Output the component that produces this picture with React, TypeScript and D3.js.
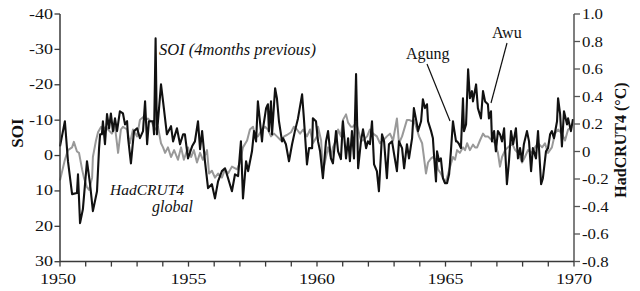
import React from "react";
import * as d3 from "d3";

const soiPoints: [number, number][] = [
  [1950.00,-2.6],[1950.19,-9.7],[1950.31,1.6],[1950.47,10.9],[1950.66,10.6],[1950.70,5.3],[1950.78,19.1],[1950.89,15.2],
  [1951.05,1.6],[1951.17,8.1],[1951.28,15.7],[1951.44,10.1],[1951.52,-2.1],[1951.56,-6.0],[1951.63,-6.0],[1951.67,-9.7],[1951.75,-3.2],[1951.83,-11.7],[1951.91,-7.7],[1951.98,-11.9],
  [1952.06,-6.9],[1952.14,-10.5],[1952.22,-6.9],[1952.33,-12.5],[1952.45,-11.9],[1952.53,-8.8],[1952.61,-9.7],[1952.65,-4.9],[1952.76,2.2],[1952.88,-6.9],
  [1953.00,-7.7],[1953.11,-4.9],[1953.23,-6.9],[1953.31,-15.3],[1953.39,-3.2],[1953.46,-9.7],[1953.62,-9.7],[1953.66,-6.0],[1953.72,-33.1],[1953.77,-6.0],[1953.93,-20.1],
  [1954.01,-15.3],[1954.16,-6.0],[1954.32,-8.3],[1954.40,-4.0],[1954.55,-7.7],[1954.67,-3.2],[1954.79,-6.0],[1954.86,-6.0],[1954.98,0.8],
  [1955.14,-2.6],[1955.25,-4.0],[1955.37,-9.7],[1955.45,-1.8],[1955.53,-6.9],[1955.64,1.6],[1955.76,9.2],[1955.91,8.1],
  [1956.03,12.1],[1956.15,7.3],[1956.30,4.4],[1956.42,3.6],[1956.54,6.4],[1956.69,10.1],[1956.81,5.3],[1956.93,5.8],
  [1957.04,-4.0],[1957.12,12.1],[1957.24,1.6],[1957.32,4.4],[1957.47,-1.2],[1957.55,-6.9],[1957.63,-4.0],[1957.70,-15.3],[1957.86,-4.0],[1957.90,-7.7],
  [1958.02,-13.4],[1958.09,-14.5],[1958.13,-6.9],[1958.21,-15.3],[1958.25,-6.0],[1958.37,-19.0],[1958.44,-16.2],[1958.52,-9.7],[1958.64,-4.0],[1958.68,-4.9],[1958.79,-3.2],[1958.91,1.6],
  [1959.03,-3.2],[1959.14,-6.9],[1959.26,-10.5],[1959.42,-17.3],[1959.49,-10.5],[1959.61,2.5],[1959.69,-2.1],[1959.81,-2.1],[1959.84,-10.5],[1959.96,-9.7],
  [1960.04,-4.0],[1960.12,-1.2],[1960.23,6.4],[1960.35,-4.0],[1960.43,-6.9],[1960.54,0.8],[1960.62,2.2],[1960.74,-6.9],[1960.82,-1.2],[1960.93,1.0],
  [1961.01,-9.7],[1961.13,0.8],[1961.21,-4.9],[1961.28,1.6],[1961.36,-6.9],[1961.44,0.8],[1961.52,-23.0],[1961.60,3.6],[1961.71,-4.0],[1961.79,-7.4],[1961.91,-2.1],[1961.98,-4.0],
  [1962.06,-3.2],[1962.14,-9.7],[1962.22,2.5],[1962.33,4.4],[1962.41,10.1],[1962.53,-6.0],[1962.61,-4.0],[1962.72,6.4],[1962.80,-3.2],[1962.92,-4.0],
  [1963.00,-0.4],[1963.11,4.4],[1963.19,-4.0],[1963.31,-2.1],[1963.39,3.6],[1963.50,-3.2],[1963.58,0.8],[1963.70,-4.9],[1963.77,-13.4],[1963.89,-8.8],[1963.93,-6.9],
  [1964.05,-9.7],[1964.12,-15.9],[1964.20,-13.4],[1964.28,-14.5],[1964.32,-9.7],[1964.44,-6.9],[1964.51,-4.9],[1964.55,-0.4],[1964.63,7.3],[1964.67,-1.2],[1964.75,1.6],[1964.82,0.8],[1964.90,6.4],[1964.98,7.8],
  [1965.06,7.8],[1965.14,5.3],[1965.21,-1.2],[1965.29,-9.7],[1965.33,-7.7],[1965.41,-4.0],[1965.45,-4.0],[1965.53,-3.2],[1965.60,-2.1],[1965.68,-16.2],[1965.72,-6.9],[1965.80,-8.8],[1965.88,-24.4],[1965.95,-16.2],
  [1966.03,-18.2],[1966.07,-15.3],[1966.19,-20.1],[1966.26,-13.4],[1966.38,-10.5],[1966.46,-18.2],[1966.54,-15.3],[1966.65,-14.5],[1966.69,-10.5],[1966.77,-12.5],[1966.81,-4.0],[1966.89,-6.9],[1966.96,-1.2],
  [1967.04,-6.9],[1967.12,-6.0],[1967.20,-4.0],[1967.28,-7.7],[1967.39,8.1],[1967.47,1.6],[1967.55,-6.9],[1967.63,-3.2],[1967.74,-7.7],[1967.82,0.8],[1967.90,-2.1],[1967.98,1.6],
  [1968.05,-3.2],[1968.17,-6.9],[1968.25,-4.0],[1968.33,4.4],[1968.40,-2.1],[1968.52,0.8],[1968.60,-6.9],[1968.72,8.1],[1968.79,6.4],[1968.91,-1.2],[1968.99,-2.1],
  [1969.07,-6.0],[1969.14,-6.9],[1969.22,-4.9],[1969.34,-9.7],[1969.38,-16.2],[1969.46,-11.7],[1969.53,-2.6],[1969.61,-12.5],[1969.73,-8.8],[1969.77,-10.5],[1969.88,-6.9],[1969.96,-10.3],
];

const hadPoints: [number, number][] = [
  [1950.00,-0.21],[1950.19,-0.06],[1950.31,0.01],[1950.47,0.03],[1950.54,0.07],[1950.66,0.00],[1950.74,-0.01],[1950.86,-0.13],[1950.93,-0.19],
  [1951.05,-0.26],[1951.13,-0.28],[1951.25,-0.19],[1951.28,-0.04],[1951.40,0.08],[1951.48,0.14],[1951.60,0.18],[1951.67,0.16],[1951.79,0.18],[1951.87,0.16],
  [1952.02,0.13],[1952.14,0.18],[1952.26,-0.01],[1952.37,0.16],[1952.45,0.18],[1952.61,0.16],[1952.72,0.06],[1952.84,0.16],
  [1953.00,0.11],[1953.11,0.23],[1953.23,0.25],[1953.35,0.23],[1953.42,0.24],[1953.58,0.21],[1953.70,0.16],[1953.81,0.18],[1953.93,0.06],
  [1954.01,0.03],[1954.09,-0.01],[1954.20,0.03],[1954.32,-0.04],[1954.44,0.01],[1954.59,-0.06],[1954.71,0.03],[1954.82,-0.06],[1954.98,0.03],
  [1955.10,-0.04],[1955.21,0.01],[1955.33,-0.08],[1955.45,-0.01],[1955.56,-0.06],[1955.72,0.01],[1955.80,-0.16],[1955.91,-0.14],
  [1956.03,-0.19],[1956.15,-0.16],[1956.30,-0.19],[1956.42,-0.13],[1956.54,-0.16],[1956.69,-0.11],[1956.89,-0.13],
  [1957.00,-0.08],[1957.12,0.03],[1957.28,0.08],[1957.39,0.16],[1957.51,0.18],[1957.59,0.11],[1957.70,0.11],[1957.86,0.16],[1957.98,0.18],
  [1958.09,0.16],[1958.21,0.11],[1958.33,0.13],[1958.44,0.11],[1958.60,0.08],[1958.72,0.11],[1958.83,0.12],[1958.99,0.14],
  [1959.10,0.18],[1959.22,0.16],[1959.34,0.13],[1959.46,0.16],[1959.61,0.11],[1959.73,0.16],[1959.84,0.06],
  [1960.00,0.11],[1960.04,0.18],[1960.16,0.08],[1960.23,-0.15],[1960.35,-0.04],[1960.43,0.03],[1960.54,-0.04],[1960.62,0.03],[1960.74,0.08],[1960.82,0.16],[1960.93,0.11],
  [1961.01,0.23],[1961.13,0.27],[1961.21,0.21],[1961.32,0.18],[1961.40,0.18],[1961.52,0.21],[1961.60,0.16],[1961.71,0.08],[1961.79,0.08],[1961.95,0.11],
  [1962.06,0.16],[1962.18,0.13],[1962.33,0.11],[1962.45,0.06],[1962.57,0.08],[1962.72,0.11],[1962.84,0.13],[1962.96,0.08],
  [1963.11,0.24],[1963.19,0.06],[1963.31,0.11],[1963.50,0.23],[1963.58,0.23],[1963.70,0.22],[1963.77,0.23],[1963.89,0.16],[1963.97,0.11],
  [1964.09,0.06],[1964.16,-0.04],[1964.24,-0.16],[1964.32,-0.08],[1964.44,-0.05],[1964.51,-0.04],[1964.63,-0.06],[1964.71,-0.13],[1964.82,-0.16],[1964.90,-0.19],[1964.98,-0.23],
  [1965.06,-0.19],[1965.18,-0.11],[1965.29,-0.04],[1965.37,-0.06],[1965.45,0.01],[1965.56,-0.01],[1965.68,0.03],[1965.76,0.01],[1965.84,0.06],[1965.95,0.01],
  [1966.07,0.05],[1966.15,0.03],[1966.23,0.03],[1966.34,0.08],[1966.46,0.13],[1966.54,0.11],[1966.65,0.11],[1966.81,0.08],[1966.93,0.06],
  [1967.04,-0.01],[1967.12,-0.11],[1967.20,-0.04],[1967.32,0.01],[1967.43,0.03],[1967.59,0.06],[1967.71,0.01],[1967.82,-0.01],[1967.98,-0.08],
  [1968.09,-0.04],[1968.21,0.01],[1968.37,-0.01],[1968.48,0.03],[1968.60,0.06],[1968.76,0.03],[1968.87,0.06],[1968.99,-0.01],
  [1969.14,0.03],[1969.26,0.13],[1969.38,0.16],[1969.53,0.13],[1969.65,0.08],[1969.77,0.16],[1969.92,0.18],
];

const yearTicks = d3.range(1950, 1971, 1);
const yearLabels = [1950, 1955, 1960, 1965, 1970];
const soiTicks = [-40, -30, -20, -10, 0, 10, 20, 30];
const hadTicks = [1.0, 0.8, 0.6, 0.4, 0.2, 0, -0.2, -0.4, -0.6, -0.8];

const SERIF = "'Liberation Serif', 'Times New Roman', serif";

export default function App() {
  const x = d3.scaleLinear().domain([1950, 1970]).range([60, 574]);
  const ySoi = d3.scaleLinear().domain([-40, 30]).range([14, 261.7]);
  const yHad = d3.scaleLinear().domain([-0.8, 1.0]).range([261.5, 14]);

  const soiLine = d3.line<[number, number]>().x((d) => x(d[0])).y((d) => ySoi(d[1]));
  const hadLine = d3.line<[number, number]>().x((d) => x(d[0])).y((d) => yHad(d[1]));

  const axisColor = "#3a3a3a";
  const bottom = 261.6;
  const fmtHad = (v: number) => (v === 0 ? "0" : v.toFixed(1));

  return (
    <svg
      width={640}
      height={291}
      style={{ position: "absolute", left: 0, top: 0, background: "#fff" }}
      fontFamily={SERIF}
    >
      <rect x={0} y={0} width={640} height={291} fill="#fff" />
      <path d={hadLine(hadPoints) || ""} fill="none" stroke="#999" strokeWidth={2} strokeLinejoin="round" />
      <path d={soiLine(soiPoints) || ""} fill="none" stroke="#111" strokeWidth={2.1} strokeLinejoin="round" />

      <line x1={60} y1={14} x2={60} y2={bottom} stroke={axisColor} strokeWidth={1.5} />
      <line x1={574} y1={14} x2={574} y2={bottom} stroke="#555" strokeWidth={1.5} />
      <line x1={60} y1={bottom} x2={574} y2={bottom} stroke={axisColor} strokeWidth={1.5} />

      {yearTicks.map((t) => (
        <line key={"xt" + t} x1={x(t)} x2={x(t)} y1={bottom} y2={bottom + 5} stroke={axisColor} strokeWidth={1.3} />
      ))}
      {yearLabels.map((t) => (
        <text
          key={"xl" + t}
          transform={`translate(${x(t) - (t === 1950 ? 2 : 0)},283.5) scale(1.2,1)`}
          textAnchor="middle"
          fontSize={15}
          fill="#111"
        >
          {t}
        </text>
      ))}

      {soiTicks.map((t) => (
        <g key={"ls" + t}>
          <line x1={54.5} x2={60} y1={ySoi(t)} y2={ySoi(t)} stroke={axisColor} strokeWidth={1.3} />
          <text transform={`translate(53,${ySoi(t) + 4.5}) scale(1.2,1)`} textAnchor="end" fontSize={15} fill="#111">
            {t}
          </text>
        </g>
      ))}

      {hadTicks.map((t) => (
        <g key={"rh" + t}>
          <line x1={574} x2={580} y1={yHad(t)} y2={yHad(t)} stroke="#555" strokeWidth={1.3} />
          <text transform={`translate(582,${yHad(t) + 5}) scale(1.12,1)`} textAnchor="start" fontSize={15} fill="#111">
            {fmtHad(t)}
          </text>
        </g>
      ))}

      <text transform="translate(23,133) rotate(-90)" textAnchor="middle" fontSize={17} fontWeight="bold" fill="#111">
        SOI
      </text>
      <text transform="translate(626,140) rotate(-90)" textAnchor="middle" fontSize={16} fontWeight="bold" fill="#111">
        HadCRUT4 (°C)
      </text>

      <text x={159} y={55} fontSize={16.5} fontStyle="italic" fill="#111">
        SOI (4months previous)
      </text>
      <text x={110} y={195} fontSize={15.5} fontStyle="italic" fill="#111">
        HadCRUT4
      </text>
      <text x={152} y={212} fontSize={16} fontStyle="italic" fill="#111">
        global
      </text>
      <text x={406} y={59} fontSize={16} fill="#111">
        Agung
      </text>
      <line x1={427} y1={64} x2={450} y2={121} stroke="#111" strokeWidth={1.2} />
      <text x={492} y={38} fontSize={16} fill="#111">
        Awu
      </text>
      <line x1={507} y1={43} x2={491} y2={103} stroke="#111" strokeWidth={1.2} />
    </svg>
  );
}
